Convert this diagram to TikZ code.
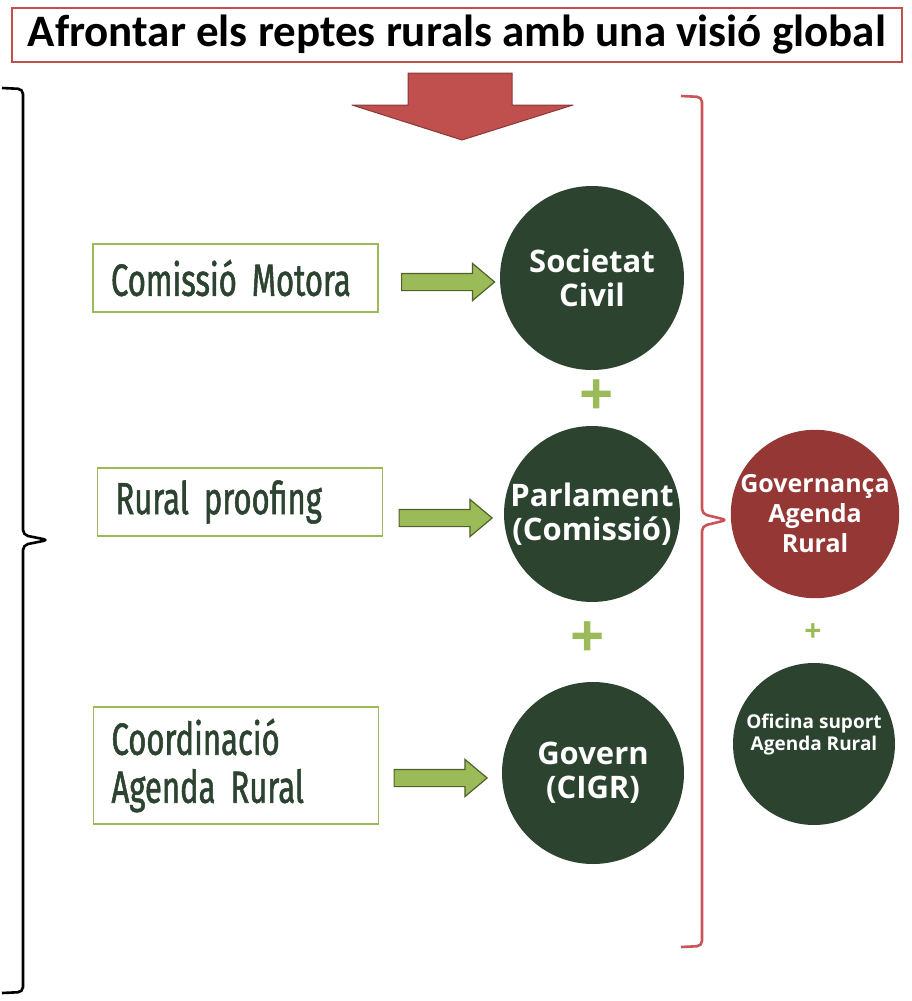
\documentclass[tikz,border=0pt]{standalone}
\usepackage{fontspec}
\setmainfont{Open Sans}
\newfontfamily\titlefont{Carlito}
\newfontfamily\boxfont[FakeStretch=0.69, FakeBold=1.2, WordSpace=0.65]{Fira Sans}
\usetikzlibrary{shapes.arrows}

\definecolor{darkgreen}{HTML}{2C4330}
\definecolor{boxgreen}{HTML}{9BBB59}
\definecolor{arrowdark}{HTML}{4F6228}
\definecolor{titlered}{HTML}{C0504D}
\definecolor{arrowreddark}{HTML}{8C3836}
\definecolor{circred}{HTML}{953735}
\definecolor{bracered}{HTML}{CB535A}

\begin{document}
\begin{tikzpicture}[x=1pt,y=-1pt,
    titlebox/.style={draw=titlered, line width=2pt, fill=white, minimum width=890pt,
      minimum height=54pt, inner sep=0pt, font=\titlefont\bfseries\fontsize{45}{48}\selectfont},
    greenbox/.style={draw=boxgreen, line width=1.6pt, fill=white, text width=249pt,
      inner xsep=18pt, inner ysep=0pt, minimum height=68pt, align=left, text=darkgreen,
      font=\boxfont\fontsize{45}{48}\selectfont},
    fatarrow/.style={single arrow, draw=arrowdark, fill=boxgreen, line width=1.2pt,
      inner xsep=0pt, inner ysep=8pt, minimum height=93pt,
      single arrow head extend=10pt, single arrow tip angle=80},
    darkcirc/.style={circle, fill=darkgreen, inner sep=0pt, text=white, align=center,
      font=\bfseries\fontsize{31}{34}\selectfont},
    plussign/.style={text=boxgreen, inner sep=0pt, font=\bfseries\fontsize{60}{60}\selectfont},
    bracket/.style={line width=2.6pt, rounded corners=5pt}]

  \useasboundingbox (0,0) rectangle (912,1001);

  % title and red arrow
  \node[titlebox] (title) at (457,35) {Afrontar els reptes rurals amb una visió global};
  \draw[fill=titlered, draw=arrowreddark, line width=1pt, line join=round]
    (408,73) -- (512,73) -- (512,105) -- (573,105) -- (462,140) -- (352,105) -- (408,105) -- cycle;

  % left column
  \node[greenbox] (motora) at (235.5,278) {Comissió Motora};
  \node[greenbox] (proofing) at (240,502) {Rural proofing};
  \node[greenbox, minimum height=117pt] (coord) at (236,765.5) {Coordinació\\Agenda Rural};

  % circles
  \node[darkcirc, minimum size=184pt] (civil) at (592,278) {Societat\\Civil};
  \node[darkcirc, minimum size=176pt] (parlament) at (592,514) {Parlament\\(Comissió)};
  \node[darkcirc, minimum size=182pt] (govern) at (593,773) {Govern\\(CIGR)};

  \node[plussign] (plus1) at (597,398) {+};
  \node[plussign] (plus2) at (588,640) {+};

  \foreach \x/\y [count=\i] in {443/282, 440.5/518, 435.5/778}{
    \node[fatarrow] (arrow\i) at (\x,\y) {};
  }

  % right column
  \node[circle, fill=circred, minimum size=164pt, inner sep=0pt, text=white, align=center,
    font=\bfseries\fontsize{25}{30}\selectfont] (governanca) at (815,514) {Governança\\Agenda\\Rural};
  \node[plussign, font=\bfseries\fontsize{30}{30}\selectfont] (plus3) at (813,633) {+};
  \node[darkcirc, minimum size=162pt, font=\bfseries\fontsize{19}{22}\selectfont]
    (oficina) at (814,744) {Oficina suport\\Agenda Rural\\[2pt]};

  % braces
  \draw[bracket] (2,88) -- (23,89) -- (23,535) -- (48,540) -- (23,545) -- (23,992) -- (2,993);
  \draw[bracket, draw=bracered] (681,96) -- (702,97) -- (702,514) -- (727,520) -- (702,526)
    -- (702,946) -- (681,947);
\end{tikzpicture}
\end{document}
